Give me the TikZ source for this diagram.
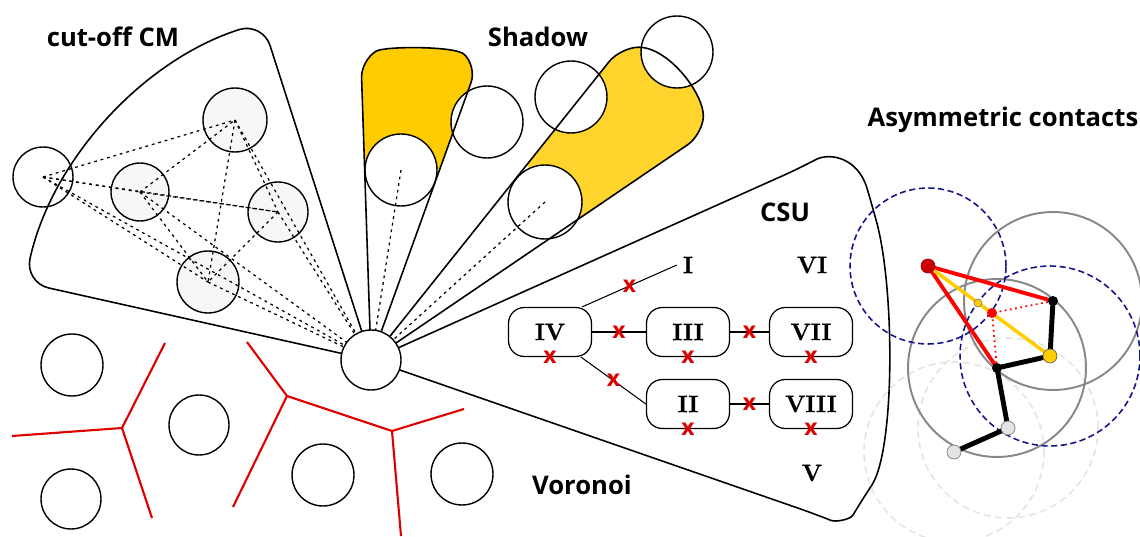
\documentclass[tikz,border=0pt]{standalone}
\usepackage{fontspec}
\setmainfont{Open Sans}
\newfontfamily\numfont[BoldFeatures={FakeBold=1.2}]{Latin Modern Roman}
\definecolor{shadeA}{RGB}{255,204,0}
\definecolor{shadeB}{RGB}{255,213,45}
\definecolor{vorored}{RGB}{222,0,0}
\definecolor{navy}{RGB}{20,20,140}
\definecolor{ballgray}{RGB}{247,247,247}
\definecolor{ringgray}{RGB}{135,135,135}
\definecolor{ghost}{RGB}{228,228,228}

\begin{document}
\begin{tikzpicture}[x=0.02cm,y=-0.02cm,
    ball/.style={circle,draw,line width=0.8pt,minimum size=#1,inner sep=0pt},
    ball/.default=1.2cm,
    link/.style={line width=0.7pt,dash pattern=on 1.6pt off 2.2pt},
    region/.style={line width=0.9pt,rounded corners=10pt},
    title/.style={font=\bfseries\fontsize{14.6}{17}\selectfont},
    rn/.style={font=\numfont\bfseries\fontsize{13.5}{15}\selectfont},
    unitbox/.style={draw,rounded corners=9pt,line width=0.7pt,minimum width=1.66cm,minimum height=0.98cm,rn},
    cut/.style={text=vorored,font=\bfseries\fontsize{13}{13}\selectfont,inner sep=0pt},
    vline/.style={vorored,line width=1.2pt},
    ring/.style={circle,minimum size=#1,inner sep=0pt},
    bead/.style={circle,inner sep=0pt,minimum size=#1,line width=0.4pt}]
    \useasboundingbox (0,0) rectangle (1140,537);
    \coordinate (o) at (371,360);

    %% cut-off CM
    \node[ball] (m0) at (43,177) {};
    \node[ball=1.16cm,fill=ballgray] (m1) at (140,192) {};
    \node[ball=1.28cm,fill=ballgray] (m2) at (235,120) {};
    \node[ball,fill=ballgray] (m3) at (278,212) {};
    \node[ball=1.24cm,fill=ballgray] (m4) at (208,282) {};
    \foreach \a/\b in {m0/m1,m0/m2,m0/m3,m0/m4,m1/m2,m1/m3,m1/m4,m2/m3,m2/m4,m3/m4,m0/o,m1/o,m2/o,m3/o,m4/o}
        \draw[link] (\a.center) -- (\b.center);
    \draw[region,rounded corners=14pt] (o) -- ++(167.4:7.1cm) arc[start angle=167.4,end angle=107.8,radius=7.1cm] -- cycle;
    \node[title] (cm) at (113,37) {cut-off CM};

    %% Shadow
    \begin{scope}
        \path[clip,rounded corners=10pt] (o) -- (361,60) .. controls (385,46) and (455,46) .. (477,66) -- cycle;
        \fill[shadeA] (300,0) rectangle (520,170);
    \end{scope}
    \begin{scope}
        \path[clip,rounded corners=10pt] (o) -- (620,48) .. controls (668,46) and (705,95) .. (702,135) -- cycle;
        \fill[shadeB] (480,110) -- (600,252) -- (800,252) -- (800,0) -- (480,0) -- cycle;
    \end{scope}
    \node[ball=1.44cm,fill=white] (s1) at (401,170) {};
    \node[ball=1.44cm,fill=white] (s2) at (487,122) {};
    \node[ball=1.44cm,fill=white] (s3) at (571,97) {};
    \node[ball=1.44cm,fill=white] (s4) at (677,52) {};
    \node[ball=1.48cm,fill=white] (s5) at (545,202) {};
    \draw[region] (o) -- (361,60) .. controls (385,46) and (455,46) .. (477,66) -- cycle;
    \draw[region] (o) -- (620,48) .. controls (668,46) and (705,95) .. (702,135) -- cycle;
    \draw[link] (s1.center) -- (o);
    \draw[link] (s5.center) -- (o);
    \node[title] (sh) at (538,37) {Shadow};

    %% CSU
    \draw[region] (o) -- (800,168) .. controls (830,152) and (858,158) .. (872,205)
        .. controls (895,290) and (895,450) .. (862,500)
        .. controls (850,520) and (835,522) .. (815,514) -- cycle;
    \node[title] (csu) at (785,212) {CSU};
    \node[unitbox] (iv) at (550,332) {IV};
    \node[unitbox] (iii) at (688,332) {III};
    \node[unitbox] (vii) at (811,332) {VII};
    \node[unitbox] (ii) at (688,404) {II};
    \node[unitbox] (viii) at (811,404) {VIII};
    \node[rn] (i) at (688,265) {I};
    \node[rn] (vi) at (812,265) {VI};
    \node[rn] (v) at (812,473) {V};
    \draw[line width=0.6pt] (iv.38) -- (i.west) node[cut,pos=0.5] {x};
    \draw[line width=0.6pt] (iv) -- (iii) node[cut,pos=0.5] {x};
    \draw[line width=0.6pt] (iii) -- (vii) node[cut,pos=0.5] {x};
    \draw[line width=0.6pt] (iv.-39) -- (ii.west) node[cut,pos=0.5] {x};
    \draw[line width=0.6pt] (ii) -- (viii) node[cut,pos=0.5] {x};
    \foreach \u in {iv,iii,vii,ii,viii}
        \node[cut] at (\u.south) {x};

    %% Voronoi
    \node[ball=1.24cm] (v1) at (72,365) {};
    \node[ball] (v2) at (71,499) {};
    \node[ball] (v3) at (199,425) {};
    \node[ball=1.24cm] (v4) at (323,475) {};
    \node[ball=1.24cm] (v5) at (462,474) {};
    \coordinate (va) at (122,428);
    \coordinate (vb) at (287,396);
    \coordinate (vc) at (392,431);
    \draw[vline] (12,436) -- (va) -- (165,343);
    \draw[vline] (va) -- (152,518);
    \draw[vline] (247,342) -- (vb) -- (233,507);
    \draw[vline] (vb) -- (vc) -- (464,409);
    \draw[vline] (vc) -- (401,536);
    \node[title] (vor) at (582,485) {Voronoi};

    %% Asymmetric contacts
    \coordinate (p) at (928,266);
    \coordinate (q) at (1053,301);
    \coordinate (y) at (1050,356);
    \coordinate (r) at (997,368);
    \coordinate (g1) at (1008,428);
    \coordinate (g2) at (954,452);
    \coordinate (hy) at (978,303);
    \coordinate (hr) at (992,313);
    \node[ring=3.6cm,draw=ghost,line width=0.9pt,dash pattern=on 4pt off 2.5pt] at (g1) {};
    \node[ring=3.6cm,draw=ghost,line width=0.9pt,dash pattern=on 4pt off 2.5pt] at (g2) {};
    \node[ring=3.56cm,draw=ringgray,line width=1.1pt] at (q) {};
    \node[ring=3.56cm,draw=ringgray,line width=1.1pt] at (r) {};
    \node[ring=3.12cm,draw=navy,line width=0.9pt,dash pattern=on 3.5pt off 2pt] at (p) {};
    \node[ring=3.6cm,draw=navy,line width=0.9pt,dash pattern=on 3.5pt off 2pt] at (y) {};
    \draw[red,line width=2.2pt] (q) -- (p) -- (r);
    \draw[shadeA,line width=2pt] (p) -- (y);
    \draw[red,dotted,line width=1pt] (q) -- (hr) -- (r);
    \draw[black,line width=2.8pt] (q) -- (y) -- (r) -- (g1) -- (g2);
    \node[bead=0.28cm,fill=ghost,draw=gray] (d1) at (g1) {};
    \node[bead=0.28cm,fill=ghost,draw=gray] (d2) at (g2) {};
    \node[bead=0.2cm,fill=black] (d3) at (q) {};
    \node[bead=0.2cm,fill=black] (d4) at (r) {};
    \node[bead=0.28cm,fill=shadeA,draw=black!60] (d5) at (y) {};
    \node[bead=0.28cm,fill=red!80!black,draw=red!60!black] (d6) at (p) {};
    \node[bead=0.16cm,fill=shadeA,draw=black!50] (d7) at (hy) {};
    \node[bead=0.2cm,fill=red] (d8) at (hr) {};
    \node[title] (asym) at (1003,120) {Asymmetric contacts};

    %% centre
    \node[ball,fill=white] (cen) at (o) {};
\end{tikzpicture}
\end{document}
